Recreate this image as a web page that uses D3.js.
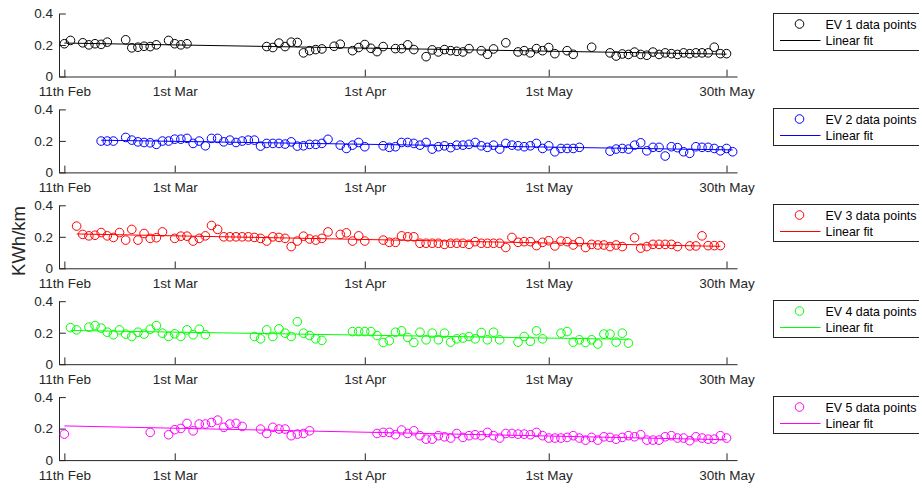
<!DOCTYPE html>
<html>
<head>
<meta charset="utf-8">
<script src="https://cdn.jsdelivr.net/npm/d3@7"></script>
<style>
  body { margin: 0; background: #fff; }
  svg text { font-family: "Liberation Sans", Arial, Helvetica, sans-serif; }
</style>
</head>
<body>
<svg id="chart" width="919" height="490"></svg>
<script>
// ---- data: daily energy consumption of five EVs (kWh per km) ----
const YEAR = 2017;

const ev1Dates = ["02-11","02-12","02-14","02-15","02-16","02-17","02-18","02-21","02-22","02-23","02-24","02-25","02-26","02-28",
  "03-01","03-02","03-03","03-16","03-17","03-18","03-19","03-20","03-21","03-22","03-23","03-24","03-25","03-27","03-28","03-30","03-31",
  "04-01","04-02","04-03","04-04","04-06","04-07","04-08","04-09","04-11","04-12","04-13","04-14","04-15","04-16","04-17","04-18",
  "04-20","04-21","04-22","04-24","04-26","04-27","04-28","04-29","04-30","05-01","05-02","05-04","05-05","05-08",
  "05-11","05-12","05-13","05-14","05-15","05-16","05-17","05-18","05-19","05-20","05-21","05-22","05-23","05-24","05-25","05-26","05-27","05-28","05-29","05-30"];
const ev1Values = [0.208,0.229,0.214,0.201,0.208,0.204,0.218,0.233,0.182,0.186,0.192,0.190,0.201,0.229,
  0.208,0.201,0.208,0.190,0.184,0.212,0.190,0.218,0.216,0.150,0.164,0.171,0.175,0.192,0.205,0.164,0.184,
  0.203,0.179,0.158,0.190,0.177,0.177,0.201,0.171,0.126,0.169,0.156,0.171,0.164,0.160,0.156,0.177,
  0.164,0.141,0.175,0.214,0.156,0.164,0.150,0.177,0.164,0.184,0.145,0.164,0.141,0.186,
  0.150,0.130,0.143,0.140,0.155,0.140,0.135,0.155,0.140,0.150,0.145,0.140,0.150,0.145,0.150,0.150,0.150,0.186,0.145,0.145];

const ev2Dates = ["02-17","02-18","02-19",
  "02-21","02-22","02-23","02-24","02-25","02-26","02-27","02-28","03-01","03-02","03-03","03-04","03-05","03-06","03-07","03-08","03-09",
  "03-10","03-11","03-12","03-13","03-14","03-15","03-16","03-17","03-18","03-19","03-20","03-21","03-22","03-23","03-24","03-25","03-26",
  "03-28","03-29","03-30","03-31","04-01",
  "04-04","04-05","04-06","04-07","04-08","04-09","04-10","04-11","04-12","04-13","04-14","04-15","04-16","04-17","04-18","04-19","04-20",
  "04-21","04-22","04-23","04-24","04-25","04-26","04-27","04-28","04-29","04-30","05-01","05-02","05-03","05-04","05-05","05-06",
  "05-11","05-12","05-13","05-14","05-15","05-16","05-17","05-18","05-19","05-20","05-21","05-22","05-23","05-24","05-25","05-26","05-27","05-28","05-29","05-30","05-31"];
const ev2Values = [0.199,0.199,0.199,
  0.222,0.205,0.194,0.190,0.188,0.178,0.199,0.199,0.211,0.211,0.216,0.184,0.199,0.169,0.216,0.216,0.194,
  0.205,0.190,0.199,0.205,0.205,0.167,0.184,0.184,0.184,0.180,0.194,0.167,0.169,0.178,0.178,0.184,0.210,
  0.173,0.152,0.173,0.190,0.163,
  0.169,0.159,0.163,0.190,0.190,0.184,0.173,0.190,0.148,0.163,0.169,0.157,0.173,0.173,0.178,0.190,0.169,
  0.159,0.173,0.148,0.184,0.173,0.169,0.163,0.169,0.184,0.152,0.169,0.131,0.152,0.152,0.152,0.159,
  0.135,0.148,0.152,0.148,0.173,0.188,0.137,0.159,0.159,0.104,0.163,0.157,0.131,0.121,0.163,0.159,0.159,0.152,0.137,0.152,0.131];

const ev3Dates = ["02-13","02-14","02-15","02-16","02-17","02-18","02-19","02-20","02-21","02-22","02-23","02-24","02-25","02-26","02-27",
  "03-01","03-02","03-03","03-04","03-05","03-06","03-07","03-08","03-09","03-10","03-11","03-12","03-13","03-14","03-15","03-16",
  "03-17","03-18","03-19","03-20","03-21","03-22","03-23","03-24","03-25","03-26",
  "03-28","03-29","03-30","03-31","04-01",
  "04-04","04-05","04-06","04-07","04-08","04-09","04-10","04-11","04-12","04-13","04-14","04-15","04-16","04-17","04-18","04-19","04-20",
  "04-21","04-22","04-23","04-24","04-25","04-26","04-27","04-28","04-29","04-30","05-01","05-02","05-03","05-04","05-05","05-06","05-07",
  "05-08","05-09","05-10","05-11","05-12","05-13",
  "05-15","05-16","05-17","05-18","05-19","05-20","05-21","05-22",
  "05-24","05-25","05-26","05-27","05-28","05-29"];
const ev3Values = [0.268,0.215,0.206,0.210,0.227,0.206,0.196,0.227,0.179,0.247,0.179,0.221,0.190,0.194,0.231,
  0.190,0.204,0.204,0.173,0.190,0.206,0.272,0.247,0.200,0.200,0.200,0.200,0.200,0.196,0.190,0.173,
  0.200,0.196,0.190,0.138,0.173,0.204,0.186,0.179,0.190,0.231,
  0.215,0.225,0.173,0.206,0.173,
  0.179,0.165,0.165,0.206,0.200,0.200,0.159,0.159,0.159,0.159,0.152,0.159,0.159,0.159,0.152,0.169,0.159,
  0.159,0.159,0.159,0.132,0.196,0.165,0.169,0.169,0.144,0.165,0.175,0.142,0.173,0.169,0.148,0.169,0.132,
  0.152,0.148,0.148,0.138,0.148,0.138,
  0.194,0.128,0.138,0.152,0.152,0.152,0.152,0.138,
  0.142,0.142,0.206,0.144,0.144,0.144];

const ev4Dates = ["02-12","02-13",
  "02-15","02-16","02-17","02-18","02-19","02-20","02-21","02-22","02-23","02-24","02-25","02-26","02-27","02-28",
  "03-01","03-02","03-03","03-04","03-05","03-06",
  "03-14","03-15","03-16","03-17","03-18","03-19","03-20","03-21","03-22","03-23","03-24","03-25",
  "03-30","03-31","04-01","04-02","04-03","04-04","04-05","04-06","04-07","04-08","04-09","04-10","04-11","04-12","04-13",
  "04-14","04-15","04-16","04-17","04-18","04-19","04-20","04-21","04-22","04-23",
  "04-26","04-27","04-28","04-29","04-30",
  "05-03","05-04","05-05","05-06","05-07","05-08","05-09","05-10","05-11","05-12","05-13","05-14"];
const ev4Values = [0.232,0.218,
  0.235,0.245,0.229,0.203,0.187,0.218,0.191,0.176,0.203,0.191,0.222,0.245,0.197,0.176,
  0.193,0.176,0.218,0.187,0.222,0.187,
  0.176,0.161,0.218,0.176,0.224,0.197,0.176,0.270,0.197,0.182,0.161,0.151,
  0.207,0.207,0.207,0.207,0.182,0.138,0.149,0.203,0.212,0.170,0.138,0.203,0.155,0.197,0.155,
  0.197,0.140,0.161,0.166,0.176,0.161,0.201,0.155,0.203,0.155,
  0.140,0.176,0.145,0.212,0.161,
  0.197,0.207,0.140,0.155,0.138,0.155,0.128,0.191,0.191,0.140,0.197,0.134];

const ev5Dates = ["02-11","02-25","02-28",
  "03-01","03-02","03-03","03-04","03-05","03-06","03-07","03-08","03-09","03-10","03-11","03-12",
  "03-15","03-16","03-17","03-18","03-19","03-20","03-21","03-22","03-23",
  "04-03","04-04","04-05","04-06","04-07","04-08","04-09","04-10","04-11","04-12","04-13","04-14","04-15","04-16",
  "04-17","04-18","04-19","04-20","04-21","04-22","04-23","04-24","04-25","04-26","04-27","04-28","04-29","04-30",
  "05-01","05-02","05-03","05-04","05-05","05-06","05-07","05-08","05-09","05-10","05-11","05-12","05-13","05-14","05-15",
  "05-16","05-17","05-18","05-19","05-20","05-21","05-22","05-23","05-24","05-25","05-26","05-27","05-28","05-29","05-30"];
const ev5Values = [0.165,0.176,0.161,
  0.193,0.201,0.233,0.186,0.229,0.229,0.239,0.254,0.208,0.229,0.233,0.214,
  0.197,0.169,0.208,0.197,0.197,0.155,0.165,0.169,0.186,
  0.169,0.176,0.176,0.161,0.191,0.169,0.186,0.155,0.133,0.133,0.155,0.148,0.140,0.169,
  0.144,0.155,0.161,0.155,0.176,0.155,0.140,0.169,0.169,0.165,0.165,0.161,0.176,0.155,
  0.140,0.140,0.140,0.144,0.155,0.140,0.127,0.144,0.127,0.148,0.144,0.133,0.144,0.155,0.148,
  0.161,0.127,0.127,0.127,0.148,0.155,0.140,0.140,0.123,0.148,0.140,0.133,0.133,0.155,0.140];

const seriesNames = ["EV 1 data points","EV 2 data points","EV 3 data points","EV 4 data points","EV 5 data points"];
const seriesColors = ["#000000","#0000ff","#ff0000","#00ff00","#ff00ff"];
const seriesDates = [ev1Dates, ev2Dates, ev3Dates, ev4Dates, ev5Dates];
const seriesValues = [ev1Values, ev2Values, ev3Values, ev4Values, ev5Values];

const xTickDates = ["02-11","03-01","04-01","05-01","05-30"];
const xTickLabels = ["11th Feb","1st Mar","1st Apr","1st May","30th May"];
const yTickValues = [0, 0.2, 0.4];
const yLabelText = "KWh/km";
const fitLabel = "Linear fit";

// ---- layout ----
const axisColor = "#262626";
const fontFamily = '"Liberation Sans", Arial, Helvetica, sans-serif';
const plotLeft = 59, plotRight = 737;
const panelTop0 = 13.5, panelStep = 95.9, panelHeight = 63;
const parseDay = d3.timeParse("%Y-%m-%d");
const toDate = s => parseDay(YEAR + "-" + s);

const svg = d3.select("#chart");
svg.append("rect").attr("width", 919).attr("height", 490).attr("fill", "#fff");

const x = d3.scaleTime()
  .domain([new Date(YEAR, 1, 10, 3), new Date(YEAR, 4, 31, 17)])
  .range([plotLeft, plotRight]);

function styleAxis(sel, size) {
  sel.attr("font-family", fontFamily).attr("font-size", size);
  sel.select(".domain").attr("stroke", axisColor).attr("stroke-width", 1);
  sel.selectAll(".tick line").attr("stroke", axisColor).attr("stroke-width", 1);
  sel.selectAll(".tick text").attr("fill", axisColor);
}

seriesNames.forEach((name, k) => {
  const top = panelTop0 + panelStep * k;
  const bottom = top + panelHeight;
  const color = seriesColors[k];
  const pts = seriesDates[k].map((d, i) => ({ t: toDate(d), v: seriesValues[k][i] }));

  const y = d3.scaleLinear().domain([0, 0.4]).range([bottom, top]);
  const g = svg.append("g");

  // axes (MATLAB style: ticks pointing inward, no box)
  g.append("g")
    .attr("transform", `translate(0,${bottom})`)
    .call(d3.axisBottom(x)
      .tickValues(xTickDates.map(toDate))
      .tickFormat((d, i) => xTickLabels[i])
      .tickSizeInner(-6.8).tickSizeOuter(0).tickPadding(10))
    .call(a => styleAxis(a, 13.5));

  g.append("g")
    .attr("transform", `translate(${plotLeft},0)`)
    .call(d3.axisLeft(y)
      .tickValues(yTickValues)
      .tickFormat(d3.format("~g"))
      .tickSizeInner(-6.8).tickSizeOuter(0).tickPadding(6))
    .call(a => styleAxis(a, 13.5));

  // data markers
  g.append("g").selectAll("circle")
    .data(pts)
    .join("circle")
    .attr("cx", p => x(p.t))
    .attr("cy", p => y(p.v))
    .attr("r", 4.3)
    .attr("fill", "none")
    .attr("stroke", color)
    .attr("stroke-width", 1);

  // least-squares linear fit over the observed dates
  const mx = d3.mean(pts, p => +p.t);
  const my = d3.mean(pts, p => p.v);
  const slope = d3.sum(pts, p => (+p.t - mx) * (p.v - my)) / d3.sum(pts, p => (+p.t - mx) ** 2);
  const fit = t => my + slope * (+t - mx);
  const [t0, t1] = d3.extent(pts, p => p.t);
  g.append("line")
    .attr("x1", x(t0)).attr("y1", y(fit(t0)))
    .attr("x2", x(t1)).attr("y2", y(fit(t1)))
    .attr("stroke", color).attr("stroke-width", 1);

  // legend
  const lg = g.append("g").attr("transform", `translate(773.5,${Math.round(top) - 0.5})`);
  lg.append("rect").attr("width", 170).attr("height", 37)
    .attr("fill", "#fff").attr("stroke", axisColor).attr("stroke-width", 1);
  lg.append("circle").attr("cx", 26).attr("cy", 10.5).attr("r", 4.3)
    .attr("fill", "none").attr("stroke", color).attr("stroke-width", 1);
  lg.append("text").attr("x", 52).attr("y", 15)
    .attr("font-family", fontFamily).attr("font-size", 12.4).attr("fill", "#000").text(name);
  lg.append("line").attr("x1", 6.5).attr("x2", 47).attr("y1", 27).attr("y2", 27)
    .attr("stroke", color).attr("stroke-width", 1);
  lg.append("text").attr("x", 52).attr("y", 31.5)
    .attr("font-family", fontFamily).attr("font-size", 12.4).attr("fill", "#000").text(fitLabel);
});

// shared y-axis title
svg.append("text")
  .attr("transform", "translate(25,241) rotate(-90)")
  .attr("text-anchor", "middle")
  .attr("font-family", fontFamily)
  .attr("font-size", 18.5)
  .attr("fill", axisColor)
  .text(yLabelText);
</script>
</body>
</html>
